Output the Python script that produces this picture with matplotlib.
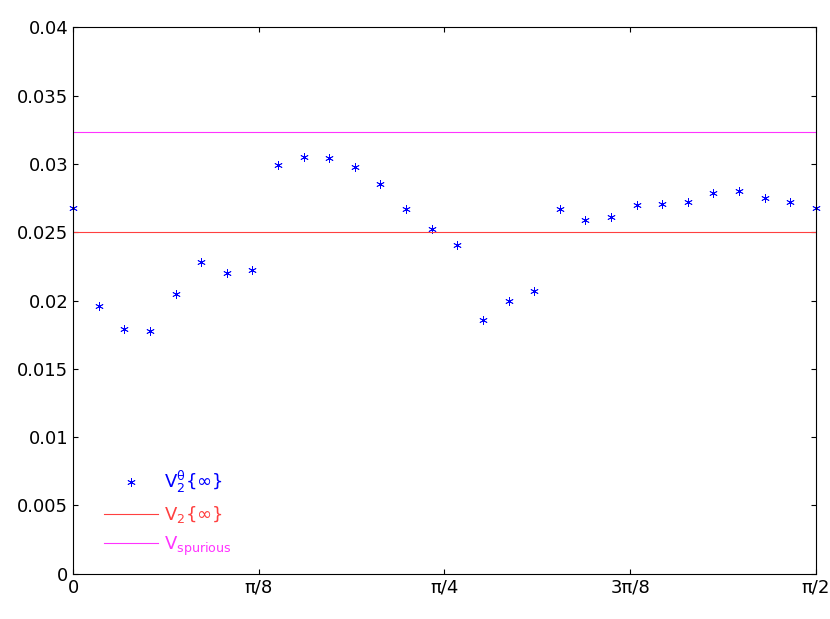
import numpy as np
import matplotlib
matplotlib.use("Agg")
import matplotlib.pyplot as plt

plt.rcParams["mathtext.default"] = "regular"

# values
v2_theta = [0.0268, 0.0196, 0.0179, 0.0178, 0.0205, 0.0228, 0.0220, 0.0222,
            0.0299, 0.0305, 0.0304, 0.0298, 0.0285, 0.0267, 0.0252, 0.0241,
            0.0186, 0.0200, 0.0207, 0.0267, 0.0259, 0.0261, 0.0270, 0.0271,
            0.0272, 0.0279, 0.0280, 0.0275, 0.0272, 0.0268]
v2_inf = 0.025
v_spurious = 0.0323
yticks = [0, 0.005, 0.01, 0.015, 0.02, 0.025, 0.03, 0.035, 0.04]
ytick_labels = ["0", "0.005", "0.01", "0.015", "0.02", "0.025", "0.03", "0.035", "0.04"]
xtick_labels = ["0", "π/8", "π/4", "3π/8", "π/2"]

theta = np.linspace(0, np.pi / 2, len(v2_theta))

fig, ax = plt.subplots(figsize=(8.3, 6.19), dpi=100)
fig.subplots_adjust(left=0.088, right=0.983, top=0.956, bottom=0.073)

ax.plot(theta, v2_theta, ls="none", marker=(6, 2, 0), ms=6, mew=0.6,
        color="blue", label=r"V$_2^\theta\{\infty\}$", clip_on=False)
ax.axhline(v2_inf, color="#ff4040", lw=0.8, label=r"V$_2\{\infty\}$")
ax.axhline(v_spurious, color="#ff33ff", lw=0.8, label=r"V$_{spurious}$")

ax.set_xlim(0, np.pi / 2)
ax.set_ylim(0, 0.04)
ax.set_xticks(np.linspace(0, np.pi / 2, 5))
ax.set_xticklabels(xtick_labels)
ax.set_yticks(yticks)
ax.set_yticklabels(ytick_labels)
ax.tick_params(direction="in", top=True, right=True, labelsize=13)

leg = ax.legend(loc="lower left", frameon=False, fontsize=13,
                bbox_to_anchor=(0.02, 0.0), handlelength=3.0, handletextpad=0.3)
for txt, c in zip(leg.get_texts(), ["blue", "#ff4040", "#ff33ff"]):
    txt.set_color(c)

fig.savefig("out.png")
